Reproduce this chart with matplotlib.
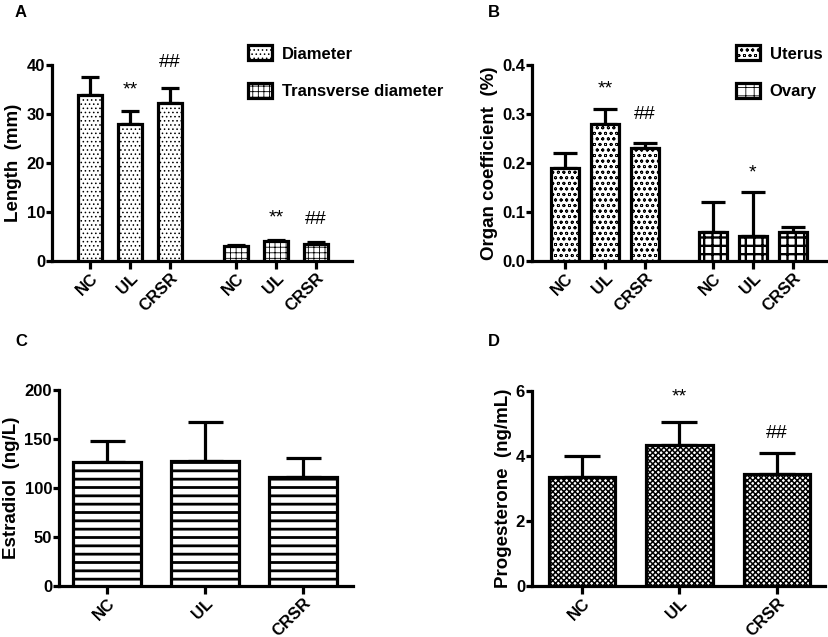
import numpy as np
import matplotlib
matplotlib.use("Agg")
from matplotlib import pyplot as plt
from matplotlib.patches import Patch

plt.rcParams['font.family'] = ['Liberation Sans', 'DejaVu Sans']
plt.rcParams['font.weight'] = 'bold'
plt.rcParams['hatch.linewidth'] = 0.6

groups = ["NC", "UL", "CRSR"]

# panel A
diam_mean = [33.8, 28.0, 32.2]
diam_err = [3.7, 2.7, 3.1]
trans_mean = [3.0, 4.0, 3.5]
trans_err = [0.3, 0.3, 0.3]
marks_a = ["", "**", "##", "", "**", "##"]
marks_a_y = [0, 34.9, 40.6, 0, 8.8, 8.4]

# panel B
uterus_mean = [0.19, 0.28, 0.23]
uterus_err = [0.03, 0.03, 0.01]
ovary_mean = [0.06, 0.05, 0.06]
ovary_err = [0.06, 0.09, 0.01]
marks_b = ["", "**", "##", "", "*", ""]
marks_b_y = [0, 0.351, 0.298, 0, 0.18, 0]

# panel C
estr_mean = [127, 128, 111]
estr_err = [21, 39, 20]

# panel D
prog_mean = [3.35, 4.33, 3.45]
prog_err = [0.65, 0.72, 0.65]
marks_d = ["", "**", "##"]
marks_d_y = [0, 5.82, 4.7]

LW = 2.3


def style_axes(ax, xlim, ylim, yticks, ylabel):
    ax.set_xlim(*xlim)
    ax.set_ylim(*ylim)
    ax.set_yticks(yticks)
    for s in ["top", "right"]:
        ax.spines[s].set_visible(False)
    for s in ["left", "bottom"]:
        ax.spines[s].set_linewidth(LW)
    ax.tick_params(axis="y", width=LW, length=4, labelsize=12, pad=1)
    ax.tick_params(axis="x", width=LW, length=6, labelsize=12, pad=1)
    for lab in ax.get_xticklabels():
        lab.set_rotation(45)
        lab.set_ha("right")
        lab.set_rotation_mode("anchor")
        lab.set_fontweight("bold")
    for lab in ax.get_yticklabels():
        lab.set_fontweight("bold")
    ax.set_ylabel(ylabel, fontsize=13.5, fontweight="bold", labelpad=3)


def set_hlw(p, hlw):
    if hlw is not None and hasattr(p, "set_hatch_linewidth"):
        p.set_hatch_linewidth(hlw)


def bars(ax, x, means, errs, width, hatch, cap, hlw=None):
    b = ax.bar(x, means, width, color="white", edgecolor="black",
               linewidth=LW, hatch=hatch, zorder=3)
    for p in b:
        set_hlw(p, hlw)
    ax.errorbar(x, means, yerr=[np.zeros(len(means)), errs], fmt="none",
                ecolor="black", elinewidth=LW, capsize=cap, capthick=LW, zorder=2)


def marks(ax, xs, texts, ys):
    for x, t, y in zip(xs, texts, ys):
        if t:
            ax.text(x, y, t, ha="center", va="center", fontsize=14,
                    fontweight="normal", clip_on=False)


def legend(ax, hatches, hlws, labels, x0):
    h = []
    for k, w in zip(hatches, hlws):
        p = Patch(facecolor="white", edgecolor="black", linewidth=LW, hatch=k)
        set_hlw(p, w)
        h.append(p)
    ax.legend(h, labels, loc="upper left", bbox_to_anchor=(x0, 1.1),
              frameon=False, fontsize=12, handlelength=1.4, handleheight=1.0,
              labelspacing=1.3, handletextpad=0.6, borderaxespad=0,
              borderpad=0)


fig = plt.figure(figsize=(8.29, 6.37), dpi=100)

# ---- A
axA = fig.add_axes([0.0627, 0.5903, 0.3619, 0.3077])
xa1 = np.arange(3)
xa2 = np.arange(3) + 3.65
bars(axA, xa1, diam_mean, diam_err, 0.62, "....", 6.5)
bars(axA, xa2, trans_mean, trans_err, 0.62, "+++", 6.5)
xa = np.concatenate([xa1, xa2])
axA.set_xticks(xa)
axA.set_xticklabels(groups * 2)
style_axes(axA, (-0.95, 6.55), (0, 40), [0, 10, 20, 30, 40], "Length  (mm)")
marks(axA, xa, marks_a, marks_a_y)
legend(axA, ["....", "+++"], [None, None],
       ["Diameter", "Transverse diameter"], 0.655)
fig.text(0.018, 0.992, "A", fontsize=12, fontweight="bold", va="top")

# ---- B
axB = fig.add_axes([0.6417, 0.5903, 0.357, 0.3077])
xb1 = np.arange(3)
xb2 = np.arange(3) + 3.7
bars(axB, xb1, uterus_mean, uterus_err, 0.7, "ooo", 8.4)
bars(axB, xb2, ovary_mean, ovary_err, 0.7, "++", 8.4, hlw=1.7)
xb = np.concatenate([xb1, xb2])
axB.set_xticks(xb)
axB.set_xticklabels(groups * 2)
style_axes(axB, (-0.83, 6.58), (0, 0.4), [0.0, 0.1, 0.2, 0.3, 0.4],
           "Organ coefficient  (%)")
axB.yaxis.set_major_formatter(matplotlib.ticker.FormatStrFormatter("%.1f"))
for lab in axB.get_yticklabels():
    lab.set_fontweight("bold")
marks(axB, xb, marks_b, marks_b_y)
legend(axB, ["ooo", "++"], [None, 1.7], ["Uterus", "Ovary"], 0.69)
fig.text(0.589, 0.992, "B", fontsize=12, fontweight="bold", va="top")

# ---- C
axC = fig.add_axes([0.0712, 0.08, 0.3548, 0.3078])
xc = np.arange(3)
bars(axC, xc, estr_mean, estr_err, 0.7, "--", 12.6, hlw=2.0)
axC.set_xticks(xc)
axC.set_xticklabels(groups)
style_axes(axC, (-0.49, 2.51), (0, 200), [0, 50, 100, 150, 200],
           "Estradiol  (ng/L)")
fig.text(0.018, 0.475, "C", fontsize=12, fontweight="bold", va="top")

# ---- D
axD = fig.add_axes([0.6417, 0.08, 0.3535, 0.3062])
xd = np.arange(3)
bars(axD, xd, prog_mean, prog_err, 0.68, "xxxxxx", 13, hlw=1.1)
axD.set_xticks(xd)
axD.set_xticklabels(groups)
style_axes(axD, (-0.51, 2.49), (0, 6), [0, 2, 4, 6], "Progesterone  (ng/mL)")
marks(axD, xd, marks_d, marks_d_y)
fig.text(0.589, 0.475, "D", fontsize=12, fontweight="bold", va="top")

fig.savefig("out.png", dpi=100)
